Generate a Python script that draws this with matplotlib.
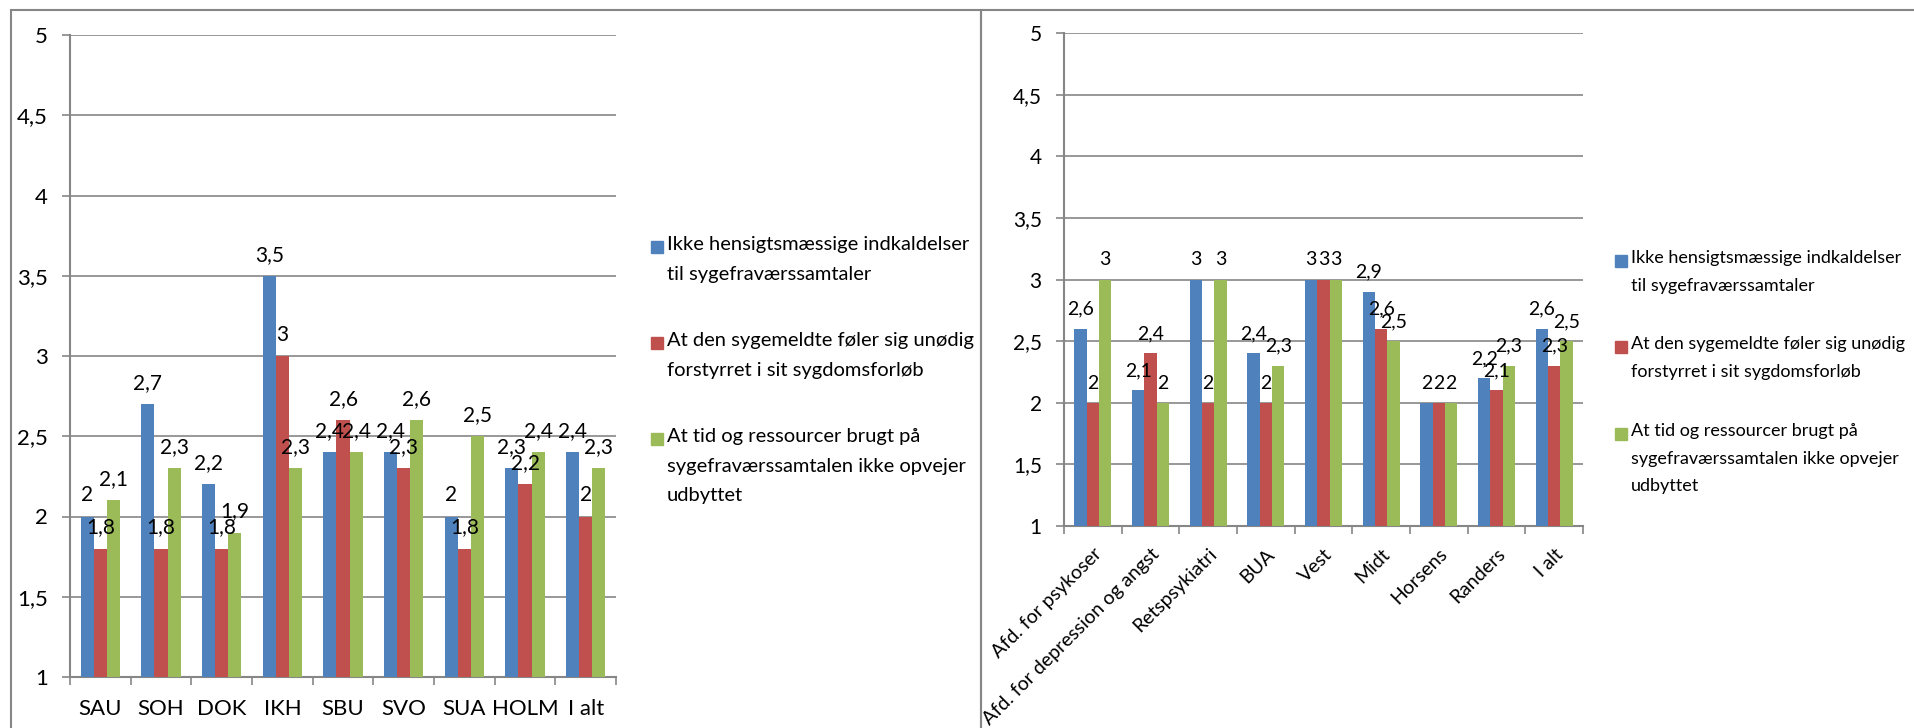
import matplotlib
matplotlib.use("Agg")
import matplotlib.pyplot as plt
import numpy as np
from matplotlib.patches import Rectangle

plt.rcParams['font.family'] = ['Lato', 'DejaVu Sans']

series_names = [
    "Ikke hensigtsmæssige indkaldelser\ntil sygefraværssamtaler",
    "At den sygemeldte føler sig unødig\nforstyrret i sit sygdomsforløb",
    "At tid og ressourcer brugt på\nsygefraværssamtalen ikke opvejer\nudbyttet",
]
colors = ["#4F81BD", "#C0504D", "#9BBB59"]

left_cats = ["SAU", "SOH", "DOK", "IKH", "SBU", "SVO", "SUA", "HOLM", "I alt"]
left_blue = [2, 2.7, 2.2, 3.5, 2.4, 2.4, 2, 2.3, 2.4]
left_red = [1.8, 1.8, 1.8, 3, 2.6, 2.3, 1.8, 2.2, 2]
left_green = [2.1, 2.3, 1.9, 2.3, 2.4, 2.6, 2.5, 2.4, 2.3]

right_cats = ["Afd. for psykoser", "Afd. for depression og angst", "Retspsykiatri",
              "BUA", "Vest", "Midt", "Horsens", "Randers", "I alt"]
right_blue = [2.6, 2.1, 3, 2.4, 3, 2.9, 2, 2.2, 2.6]
right_red = [2, 2.4, 2, 2, 3, 2.6, 2, 2.1, 2.3]
right_green = [3, 2, 3, 2.3, 3, 2.5, 2, 2.3, 2.5]

yticks = [1, 1.5, 2, 2.5, 3, 3.5, 4, 4.5, 5]
grey = "#868686"

W, H = 1914, 728
fig = plt.figure(figsize=(W / 100, H / 100), dpi=100)


def fmt(v):
    s = ("%.1f" % v).rstrip("0").rstrip(".")
    return s.replace(".", ",")


def draw_panel(ax, cats, values, rotate, fs):
    n = len(cats)
    x = np.arange(n)
    bw = 0.215
    for i, (vals, c) in enumerate(zip(values, colors)):
        pos = x + (i - 1) * bw
        ax.bar(pos, np.array(vals) - 1, bw, bottom=1, color=c, zorder=3)
        for p, v in zip(pos, vals):
            ax.annotate(fmt(v), (p, v), xytext=(0, 8), textcoords="offset points",
                        ha="center", va="bottom", fontsize=fs, zorder=4)
    ax.set_ylim(1, 5)
    ax.set_xlim(-0.5, n - 0.5)
    ax.set_yticks(yticks)
    ax.set_yticklabels([fmt(t) for t in yticks], fontsize=fs + 1)
    ax.yaxis.grid(True, color=grey, lw=1.2, zorder=0)
    for s in ["top", "right"]:
        ax.spines[s].set_visible(False)
    for s in ["left", "bottom"]:
        ax.spines[s].set_color(grey)
        ax.spines[s].set_linewidth(1.5)
    ax.set_xticks(np.arange(n + 1) - 0.5)
    ax.set_xticklabels([])
    ax.tick_params(axis="x", which="major", length=6, color=grey, width=1.2)
    ax.tick_params(axis="y", length=6, color=grey, width=1.2, pad=10)
    ax.set_xticks(x, minor=True)
    if rotate:
        ax.set_xticklabels(cats, minor=True, rotation=45, ha="right",
                           rotation_mode="anchor", fontsize=fs)
        ax.tick_params(axis="x", which="minor", length=0, pad=14)
    else:
        ax.set_xticklabels(cats, minor=True, fontsize=fs + 1)
        ax.tick_params(axis="x", which="minor", length=0, pad=16)


axL = fig.add_axes([70 / W, 1 - 677 / H, (616 - 70) / W, (677 - 35) / H])
draw_panel(axL, left_cats, [left_blue, left_red, left_green], False, 15)

axR = fig.add_axes([1064 / W, 1 - 526 / H, (1583 - 1064) / W, (526 - 33) / H])
draw_panel(axR, right_cats, [right_blue, right_red, right_green], True, 14)


def legend(x_sq, x_txt, ys, fs):
    for (y, name, c) in zip(ys, series_names, colors):
        fig.patches.append(Rectangle((x_sq / W, 1 - (y + 6) / H), 12 / W, 12 / H,
                                     transform=fig.transFigure, color=c))
        fig.text(x_txt / W, 1 - (y - 11) / H, name, va="top", ha="left",
                 fontsize=fs, linespacing=1.9)


legend(651, 667, [247, 343, 439], 14.5)
legend(1615, 1631, [261, 347, 434], 13)

# panel borders
fig.patches.append(Rectangle((11 / W, -0.1), (981 - 11) / W, 1.1 - 10 / H,
                             transform=fig.transFigure, fill=False,
                             edgecolor=grey, lw=1.5))
fig.patches.append(Rectangle((981 / W, -0.1), 1.0, 1.1 - 10 / H,
                             transform=fig.transFigure, fill=False,
                             edgecolor=grey, lw=1.5))

fig.savefig("out.png", dpi=100)
